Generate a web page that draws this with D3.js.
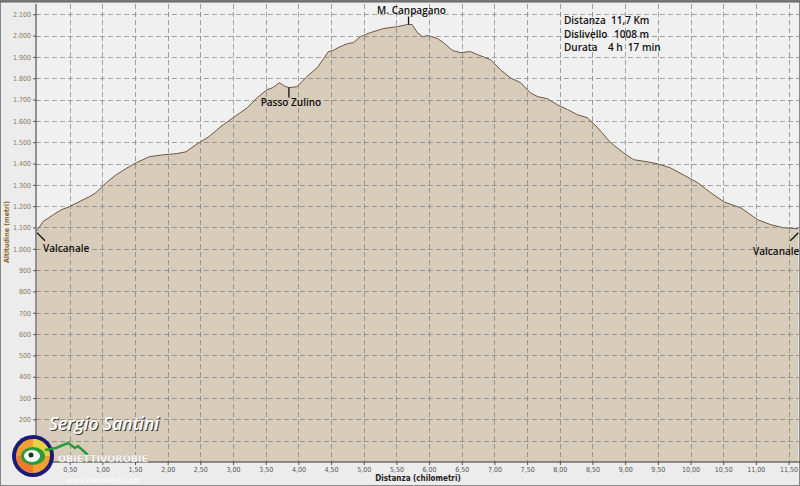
<!DOCTYPE html>
<html><head><meta charset="utf-8">
<script src="https://cdn.jsdelivr.net/npm/d3@7"></script>
<style>
html,body{margin:0;padding:0;background:#fff;}
svg{display:block;font-family:"DejaVu Sans",sans-serif;}
</style></head>
<body><svg id="c" width="800" height="486"></svg>
<script>
// ---- data ----
const distanceKm = [0.00,0.09,0.25,0.37,0.49,0.64,0.80,0.90,1.06,1.21,1.36,1.52,1.72,1.93,2.13,2.28,2.43,2.63,2.80,3.00,3.22,3.37,3.52,3.61,3.71,3.80,3.87,3.98,4.13,4.29,4.46,4.53,4.61,4.75,4.84,4.95,5.10,5.30,5.51,5.67,5.74,5.82,5.90,5.99,6.13,6.22,6.36,6.48,6.63,6.74,6.94,7.09,7.24,7.40,7.55,7.66,7.81,7.96,8.12,8.27,8.42,8.58,8.77,8.97,9.13,9.34,9.49,9.69,9.89,10.11,10.31,10.51,10.77,11.03,11.23,11.42,11.65];
const altitudeM = [1085,1127,1160,1183,1197,1220,1244,1263,1310,1347,1376,1404,1432,1441,1446,1455,1488,1526,1570,1615,1662,1709,1746,1756,1779,1761,1756,1761,1808,1850,1925,1930,1944,1962,1967,1995,2014,2033,2042,2052,2052,2014,1995,2000,1986,1967,1930,1920,1925,1911,1887,1840,1803,1779,1732,1714,1704,1676,1653,1629,1615,1568,1500,1451,1418,1408,1399,1380,1347,1310,1263,1220,1192,1136,1113,1099,1094];
const xTicks = [0.5,1,1.5,2,2.5,3,3.5,4,4.5,5,5.5,6,6.5,7,7.5,8,8.5,9,9.5,10,10.5,11,11.5];
const yTicks = [100,200,300,400,500,600,700,800,900,1000,1100,1200,1300,1400,1500,1600,1700,1800,1900,2000,2100];
const peaks = [
  {name:"Valcanale", km:0.0, alt:1085, side:"startLabel"},
  {name:"Passo Zulino", km:3.87, alt:1756, side:"below"},
  {name:"M. Canpagano", km:5.67, alt:2052, side:"above"},
  {name:"Valcanale", km:11.65, alt:1094, side:"endLabel"}
];
const infoLabels = ["Distanza","Dislivello","Durata"];
const infoValues = ["11,7 Km","1008 m","4 h  17 min"];

// ---- chart ----
const svg = d3.select("#c");
const W=800,H=486;
const L=36,R=798,T=4,B=462;
const x = d3.scaleLinear().domain([0,11.66]).range([L+1,R+1]);
const y = d3.scaleLinear().domain([0,2150]).range([B,B-2150*0.2132]);
const loc = d3.formatLocale({decimal:",",thousands:".",grouping:[3],currency:["",""]});
const fx = loc.format(".2f"), fy = loc.format(",.0f");

svg.append("rect").attr("width",W).attr("height",H).attr("fill","#ececec");
svg.append("rect").attr("x",L).attr("y",T).attr("width",W-L).attr("height",B-T).attr("fill","#f0f0f0");
svg.append("rect").attr("x",0.5).attr("y",0.5).attr("width",W-1).attr("height",H-1).attr("fill","none").attr("stroke","#888").attr("stroke-width",1);
svg.append("line").attr("x1",0).attr("x2",W).attr("y1",1.5).attr("y2",1.5).attr("stroke","#6a6a6a").attr("stroke-width",2);

// area
const area = d3.area().x((d,i)=>x(distanceKm[i])).y0(y(0)).y1((d)=>y(d)).curve(d3.curveLinear);
const line = d3.line().x((d,i)=>x(distanceKm[i])).y(d=>y(d));
svg.append("path").datum(altitudeM).attr("d",area).attr("fill","#d7cbb9");
svg.append("path").datum(altitudeM).attr("d",line).attr("fill","none").attr("stroke","#5b4a33").attr("stroke-width",0.9);

// grid
const g = svg.append("g");
g.selectAll(".hg").data(yTicks).join("line").attr("x1",L).attr("x2",R+2).attr("y1",d=>Math.round(y(d))+0.5).attr("y2",d=>Math.round(y(d))+0.5)
 .attr("stroke","#7a7a7a").attr("stroke-width",0.8).attr("stroke-dasharray","5,3").attr("opacity",0.85);
g.selectAll(".vg").data(xTicks).join("line").attr("y1",T).attr("y2",B).attr("x1",d=>Math.round(x(d))+0.5).attr("x2",d=>Math.round(x(d))+0.5)
 .attr("stroke","#7a7a7a").attr("stroke-width",0.8).attr("stroke-dasharray","5,3").attr("opacity",0.85);

// axes
const yAxis = d3.axisLeft(y).tickValues(yTicks).tickFormat(fy).tickSize(3).tickPadding(2);
const ya = svg.append("g").attr("transform",`translate(${L},0)`).call(yAxis);
ya.select(".domain").attr("stroke","#333").attr("d",`M0,${T}V${B}`);
ya.selectAll("text").attr("font-size",7).attr("fill","#8a7a5a").attr("font-family","DejaVu Sans Condensed, DejaVu Sans");
ya.selectAll(".tick line").attr("stroke","#555");

const xAxis = d3.axisBottom(x).tickValues(xTicks).tickFormat(fx).tickSize(3).tickPadding(2);
const xa = svg.append("g").attr("transform",`translate(0,${B})`).call(xAxis);
xa.select(".domain").attr("stroke","#333").attr("d",`M${L},0H${W}`);
xa.selectAll("text").attr("font-size",7).attr("fill","#555").attr("font-family","DejaVu Sans Condensed, DejaVu Sans");
xa.selectAll(".tick line").attr("stroke","#555");

svg.append("text").attr("x",418).attr("y",481).attr("text-anchor","middle").attr("font-size",8).attr("font-weight","bold")
  .attr("fill","#222").attr("font-family","DejaVu Sans Condensed, DejaVu Sans").text("Distanza (chilometri)");
svg.append("text").attr("transform","translate(9,232) rotate(-90)").attr("text-anchor","middle").attr("font-size",7).attr("font-weight","bold")
  .attr("fill","#8a6a2a").attr("font-family","DejaVu Sans Condensed, DejaVu Sans").text("Altitudine (metri)");

// peak annotations
const ann = svg.append("g").attr("font-family","Open Sans, DejaVu Sans").attr("font-weight","600").attr("font-size",10).attr("fill","#111");
peaks.forEach(p=>{
  const px=x(p.km), py=y(p.alt);
  if(p.side==="startLabel"){
    ann.append("line").attr("x1",px).attr("y1",py+2).attr("x2",px+8).attr("y2",py+10).attr("stroke","#111").attr("stroke-width",1.3);
    ann.append("text").attr("x",px+6).attr("y",py+21).text(p.name);
  } else if(p.side==="endLabel"){
    ann.append("line").attr("x1",px).attr("y1",py+4).attr("x2",px-8).attr("y2",py+12).attr("stroke","#111").attr("stroke-width",1.3);
    ann.append("text").attr("x",px+1).attr("y",py+26).attr("text-anchor","end").text(p.name);
  } else if(p.side==="below"){
    ann.append("line").attr("x1",px-1).attr("y1",py).attr("x2",px-1).attr("y2",py+10).attr("stroke","#111").attr("stroke-width",1.3);
    ann.append("text").attr("x",px+1).attr("y",py+18).attr("text-anchor","middle").text(p.name);
  } else {
    ann.append("line").attr("x1",px+1).attr("y1",py).attr("x2",px+1).attr("y2",py-8).attr("stroke","#111").attr("stroke-width",1.3);
    ann.append("text").attr("x",px+4).attr("y",py-11).attr("text-anchor","middle").text(p.name);
  }
});

// info box
const info = svg.append("g").attr("font-family","Open Sans, DejaVu Sans").attr("font-weight","600").attr("font-size",10).attr("fill","#111");
infoLabels.forEach((t,i)=>{
  info.append("text").attr("x",564).attr("y",24+i*13.5).text(t);
  info.append("text").attr("x",i===2?608:i===1?614:611).attr("y",24+i*13.5).text(infoValues[i]).attr("xml:space","preserve").style("white-space","pre");
});

// signature
svg.append("text").attr("x",49).attr("y",430).attr("font-family","Open Sans, DejaVu Sans").attr("font-style","italic").attr("font-weight","600").attr("font-size",17.5)
  .attr("fill","#333").attr("transform","translate(1,1)").text("Sergio Santini");
svg.append("text").attr("x",49).attr("y",430).attr("font-family","Open Sans, DejaVu Sans").attr("font-style","italic").attr("font-weight","600").attr("font-size",17.5)
  .attr("fill","#fff").text("Sergio Santini");

// logo
const lg = svg.append("g");
lg.append("circle").attr("cx",33).attr("cy",456).attr("r",21).attr("fill","#1a1a7a");
lg.append("circle").attr("cx",33).attr("cy",456).attr("r",17).attr("fill","#f0a030");
lg.append("path").attr("d","M33,439 A17,17 0 0 1 50,456 L33,456Z").attr("fill","#e8d040");
lg.append("path").attr("d","M16,456 A17,17 0 0 0 33,473 L33,456Z").attr("fill","#f07a30");
lg.append("ellipse").attr("cx",33).attr("cy",456).attr("rx",12).attr("ry",9).attr("fill","#2a9a3a");
lg.append("ellipse").attr("cx",32).attr("cy",456).attr("rx",8).attr("ry",6).attr("fill","#fff");
lg.append("circle").attr("cx",31).attr("cy",455).attr("r",2.5).attr("fill","#1a3a1a");
lg.append("path").attr("d","M45,450 L56,448 L68,443 L75,448 L78,446 L88,455").attr("fill","none").attr("stroke","#2a9a3a").attr("stroke-width",2.5);
svg.append("text").attr("x",58).attr("y",462).attr("font-family","DejaVu Sans").attr("font-weight","bold").attr("font-size",9.5)
  .attr("fill","#fff").attr("stroke","#bbb").attr("stroke-width",0.3).text("OBIETTIVOROBIE");
svg.append("text").attr("x",66).attr("y",483).attr("font-family","DejaVu Sans").attr("font-style","italic").attr("font-size",7.5)
  .attr("fill","#fff").attr("opacity",0.85).text("www.PieroWeb.com");
</script></body></html>
